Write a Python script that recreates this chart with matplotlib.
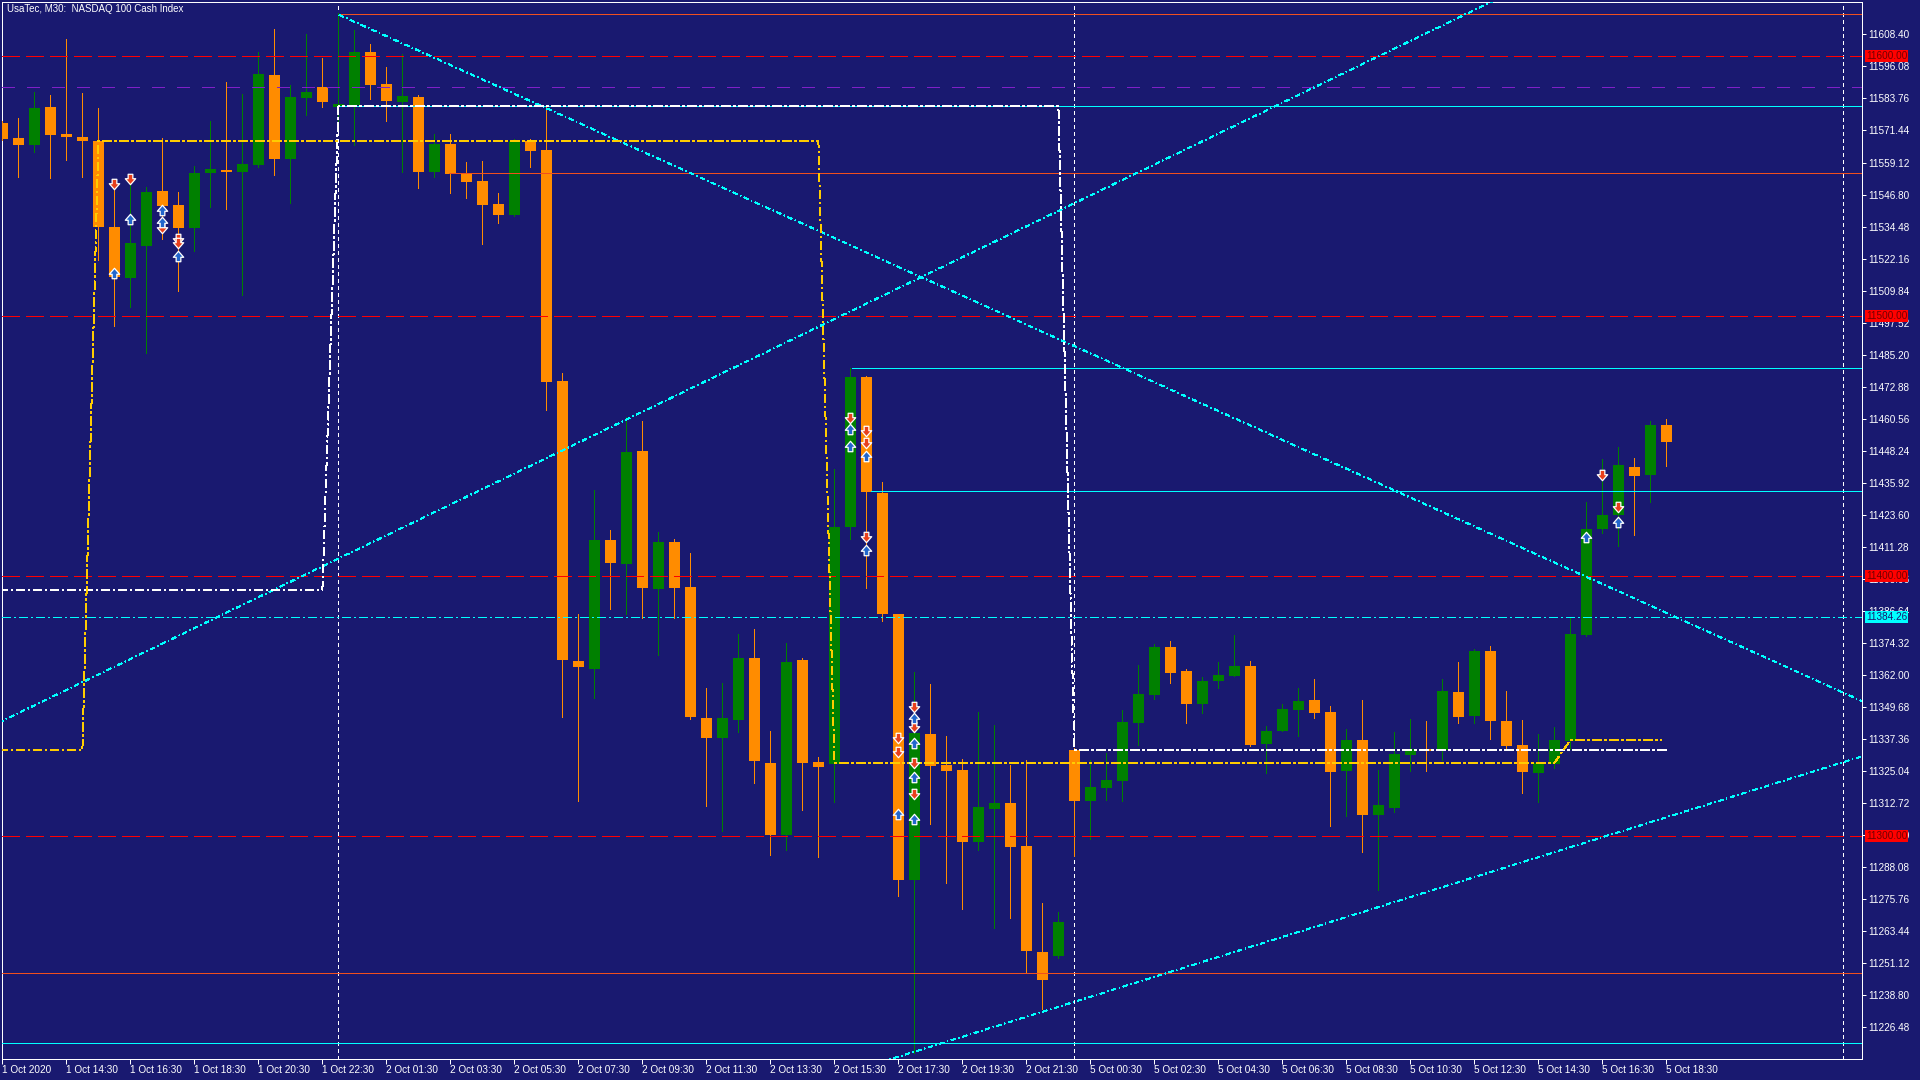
import matplotlib
matplotlib.use('Agg')
import matplotlib.pyplot as plt
from matplotlib.path import Path
from matplotlib.transforms import blended_transform_factory
import numpy as np

# ---------------- data (UsaTec M30 candles, bar index 0 = 1 Oct 12:30) ----------------
opens = [11574.3, 11568.6, 11566.0, 11580.5, 11570.1, 11568.9, 11567.4, 11534.3, 11514.8, 11527.1,
         11548.2, 11542.8, 11533.9, 11555.1, 11556.3, 11555.5, 11558.2, 11592.8, 11560.5, 11583.9,
         11588.2, 11580.6, 11581.1, 11601.6, 11589.3, 11582.5, 11584.3, 11555.5, 11566.3, 11555.1,
         11552.0, 11543.2, 11539.1, 11567.4, 11563.9, 11475.1, 11367.4, 11364.5, 11413.9, 11404.7,
         11448.2, 11395.1, 11413.2, 11395.9, 11345.5, 11337.9, 11344.9, 11368.6, 11328.2, 11300.6,
         11367.8, 11328.6, 11327.9, 11418.8, 11476.6, 11432.0, 11385.3, 11283.3, 11339.3, 11327.4,
         11325.6, 11297.6, 11310.5, 11312.8, 11296.3, 11255.5, 11253.8, 11333.2, 11313.7, 11318.7,
         11321.4, 11343.7, 11354.4, 11372.8, 11363.6, 11351.0, 11359.8, 11361.8, 11365.5, 11335.6,
         11340.6, 11348.7, 11352.4, 11347.8, 11325.2, 11337.0, 11308.3, 11311.0, 11331.4, 11333.6,
         11333.2, 11355.5, 11346.4, 11371.3, 11344.3, 11335.1, 11324.4, 11327.9, 11336.8, 11377.4,
         11418.3, 11423.7, 11442.0, 11439.1, 11458.2]
highs = [11575.1, 11576.2, 11586.2, 11585.0, 11606.6, 11585.9, 11580.2, 11551.2, 11552.4, 11549.6,
         11568.6, 11547.8, 11557.8, 11575.1, 11590.1, 11585.5, 11601.7, 11610.5, 11588.9, 11608.7,
         11599.3, 11616.5, 11610.1, 11604.7, 11595.9, 11600.9, 11585.0, 11570.1, 11570.1, 11559.3,
         11559.7, 11547.4, 11568.2, 11568.0, 11580.5, 11478.0, 11385.3, 11433.0, 11417.9, 11461.3,
         11459.7, 11417.0, 11414.5, 11409.0, 11357.0, 11358.9, 11377.8, 11379.7, 11340.5, 11374.3,
         11368.6, 11330.5, 11441.3, 11480.1, 11477.0, 11436.3, 11385.3, 11363.3, 11358.6, 11338.6,
         11329.8, 11347.8, 11342.8, 11327.4, 11329.3, 11274.3, 11270.9, 11333.9, 11329.5, 11332.1,
         11348.6, 11365.8, 11373.9, 11375.1, 11364.4, 11361.3, 11367.0, 11377.4, 11367.4, 11342.4,
         11351.0, 11357.0, 11360.5, 11350.1, 11341.3, 11352.4, 11325.5, 11340.1, 11345.1, 11344.3,
         11360.5, 11367.0, 11372.0, 11373.2, 11355.9, 11344.7, 11339.3, 11342.0, 11384.2, 11428.6,
         11445.1, 11449.7, 11445.5, 11459.7, 11460.5]
lows = [11567.8, 11553.7, 11563.3, 11553.3, 11560.2, 11553.7, 11521.6, 11496.4, 11503.5, 11485.7,
        11529.8, 11509.8, 11525.2, 11542.1, 11541.3, 11508.3, 11557.5, 11554.4, 11543.7, 11577.5,
        11580.6, 11571.6, 11565.9, 11583.6, 11575.2, 11555.5, 11549.4, 11553.7, 11547.5, 11545.6,
        11527.9, 11536.0, 11538.5, 11557.5, 11463.9, 11345.8, 11313.7, 11353.0, 11387.5, 11385.3,
        11383.9, 11369.9, 11384.1, 11345.0, 11311.8, 11302.2, 11340.1, 11320.5, 11292.9, 11294.8,
        11310.1, 11292.0, 11313.0, 11414.5, 11395.6, 11382.9, 11277.1, 11216.6, 11304.9, 11282.0,
        11272.1, 11294.7, 11264.9, 11268.6, 11247.4, 11233.7, 11253.0, 11292.4, 11298.9, 11314.1,
        11313.7, 11335.2, 11352.9, 11359.1, 11343.7, 11347.5, 11357.1, 11361.5, 11334.8, 11324.4,
        11340.3, 11338.7, 11345.6, 11304.1, 11307.9, 11294.1, 11279.3, 11309.4, 11325.2, 11325.2,
        11329.3, 11343.4, 11343.7, 11337.5, 11333.3, 11316.8, 11313.3, 11326.1, 11333.4, 11377.0,
        11416.8, 11411.8, 11416.0, 11428.6, 11442.5]
closes = [11568.3, 11566.0, 11580.1, 11569.8, 11569.1, 11567.5, 11534.4, 11515.2, 11528.2, 11547.8,
          11542.5, 11533.9, 11555.1, 11556.6, 11555.5, 11558.6, 11593.2, 11560.5, 11584.3, 11586.2,
          11582.4, 11581.6, 11601.6, 11588.9, 11582.9, 11584.7, 11555.5, 11566.3, 11554.8, 11551.8,
          11542.9, 11539.1, 11567.4, 11563.7, 11474.9, 11367.6, 11365.2, 11413.9, 11405.1, 11447.8,
          11395.6, 11413.2, 11395.6, 11345.9, 11337.9, 11345.5, 11368.6, 11328.8, 11300.6, 11367.1,
          11328.3, 11326.8, 11418.9, 11476.6, 11432.5, 11385.3, 11283.2, 11339.7, 11327.2, 11325.2,
          11297.9, 11311.3, 11312.8, 11295.7, 11256.0, 11244.9, 11267.0, 11313.7, 11319.0, 11321.6,
          11343.9, 11354.7, 11372.8, 11362.9, 11351.0, 11359.7, 11362.0, 11365.5, 11335.2, 11340.5,
          11348.9, 11352.0, 11347.5, 11324.8, 11337.0, 11308.3, 11312.0, 11331.6, 11333.4, 11332.9,
          11355.9, 11346.0, 11371.3, 11344.4, 11334.8, 11324.8, 11328.1, 11337.0, 11377.8, 11418.2,
          11423.6, 11442.8, 11438.6, 11458.2, 11451.8]

xtick_labels = ["1 Oct 2020", "1 Oct 14:30", "1 Oct 16:30", "1 Oct 18:30", "1 Oct 20:30", "1 Oct 22:30",
                "2 Oct 01:30", "2 Oct 03:30", "2 Oct 05:30", "2 Oct 07:30", "2 Oct 09:30", "2 Oct 11:30",
                "2 Oct 13:30", "2 Oct 15:30", "2 Oct 17:30", "2 Oct 19:30", "2 Oct 21:30", "5 Oct 00:30",
                "5 Oct 02:30", "5 Oct 04:30", "5 Oct 06:30", "5 Oct 08:30", "5 Oct 10:30", "5 Oct 12:30",
                "5 Oct 14:30", "5 Oct 16:30", "5 Oct 18:30"]
ytick_values = [11226.48, 11238.80, 11251.12, 11263.44, 11275.76, 11288.08, 11300.40, 11312.72,
                11325.04, 11337.36, 11349.68, 11362.00, 11374.32, 11386.64, 11398.96, 11411.28,
                11423.60, 11435.92, 11448.24, 11460.56, 11472.88, 11485.20, 11497.52, 11509.84,
                11522.16, 11534.48, 11546.80, 11559.12, 11571.44, 11583.76, 11596.08, 11608.40]

round_levels = [11600.0, 11500.0, 11400.0, 11300.0]
cyan_level = 11384.26
purple_level = 11588.0
# horizontal segments: (price, start bar)
cyan_segments = [(11580.7, 21.0), (11480.0, 53.1), (11432.8, 54.3)]
orange_segments = [(11616.1, 21.1), (11555.0, 27.9), (11247.3, -1.0)]
cyan_bottom_level = 11220.4
# trend lines (bar, price) pairs
trend_desc = [(21.05, 11615.9), (116.3, 11351.8)]
trend_up_upper = [(-0.5, 11342.9), (95.0, 11626.7)]
trend_up_lower = [(55.0, 11213.3), (116.3, 11330.9)]
# stepped lines
white_step_x = [-1.0, 20.0, 21.0, 66.0, 67.0, 104.0]
white_step_y = [11394.9, 11394.9, 11580.7, 11580.7, 11333.2, 11333.2]
yellow_step_x = [-1.0, 5.0, 6.0, 51.0, 52.0, 97.0, 98.0, 103.7]
yellow_step_y = [11333.2, 11333.2, 11567.4, 11567.4, 11328.2, 11328.2, 11337.0, 11337.0]
separators = [21, 67, 115.05]
# signal arrows
sig_down_x = [7, 8, 10, 11, 11, 53, 54, 54, 54, 56, 56, 57, 57, 57, 57, 100, 101]
sig_down_y = [11550.7, 11552.7, 11534.1, 11529.8, 11528.3, 11461.0, 11455.7, 11451.4, 11415.0,
              11337.9, 11332.4, 11349.6, 11342.0, 11328.2, 11316.1, 11438.9, 11426.5]
sig_up_x = [7, 8, 10, 10, 11, 53, 53, 54, 54, 56, 57, 57, 57, 57, 99, 101]
sig_up_y = [11516.7, 11537.5, 11540.9, 11536.4, 11523.2, 11456.7, 11450.2, 11446.4, 11410.0,
            11308.5, 11345.5, 11336.0, 11322.8, 11306.6, 11415.2, 11421.0]

# ---------------- style ----------------
BG = '#191970'
ORANGE = '#FF8C00'
GREEN = '#008000'
RED = '#FF0000'
CYAN = '#00FFFF'
ORANGE_RED = '#F0501E'
PURPLE = '#8020C8'
YELLOW = '#FFCC00'
PX = 0.72  # points per pixel at 100 dpi

plt.rcParams['font.family'] = ['Liberation Sans', 'DejaVu Sans']
plt.rcParams['lines.scale_dashes'] = False

def dash(*px):
    return (0, tuple(v * PX for v in px))

fig = plt.figure(figsize=(19.2, 10.8), dpi=100, facecolor=BG)
ax = fig.add_axes([2 / 1920, 21 / 1080, 1860 / 1920, 1057 / 1080], facecolor=BG)
ax.set_xlim(-0.025, 116.225)
ax.set_ylim(11214.33, 11620.86)

o = np.array(opens); h = np.array(highs); l = np.array(lows); c = np.array(closes)
idx = np.arange(len(o))
cols = np.where(c >= o, GREEN, ORANGE)

# period separators
for s in separators:
    ax.axvline(s, color='white', lw=1 * PX, ls=dash(3, 3), zorder=2, antialiased=False)

# candles
ax.vlines(idx, l, h, colors=cols, lw=1 * PX, zorder=3, antialiased=False)
bottom = np.minimum(o, c)
height = np.maximum(np.abs(c - o), 0.45)
ax.bar(idx, height, bottom=bottom, width=0.68, color=cols, linewidth=0, zorder=4, antialiased=False)

XR = 117.0
LW = 1.0 * PX
# level lines
for lv in round_levels:
    ax.axhline(lv, color=RED, lw=LW, ls=dash(18, 6), zorder=5, antialiased=False)
ax.axhline(purple_level, color=PURPLE, lw=LW, ls=dash(12, 12), zorder=5, antialiased=False)
ax.axhline(cyan_level, color=CYAN, lw=LW, ls=dash(9, 3, 2, 3), zorder=5, antialiased=False)
ax.axhline(cyan_bottom_level, color=CYAN, lw=LW, zorder=5, antialiased=False)
for pr, x0 in cyan_segments:
    ax.hlines(pr, x0, XR, colors=CYAN, lw=LW, zorder=5, antialiased=False)
for pr, x0 in orange_segments:
    ax.hlines(pr, x0, XR, colors=ORANGE_RED, lw=LW, zorder=5, antialiased=False)

# trend lines
for tl in (trend_desc, trend_up_upper, trend_up_lower):
    ax.plot([tl[0][0], tl[1][0]], [tl[0][1], tl[1][1]], color=CYAN, lw=LW,
            ls=dash(5, 4, 1, 4), zorder=5, antialiased=False)

# stepped lines
ax.plot(white_step_x, white_step_y, color='white', lw=LW, ls=dash(9, 3, 2, 3), zorder=6, antialiased=False)
ax.plot(yellow_step_x, yellow_step_y, color=YELLOW, lw=LW, ls=dash(9, 3, 2, 3), zorder=6, antialiased=False)

# signal arrows
down_path = Path([(-0.45, 1), (0.45, 1), (0.45, 0.15), (1, 0.15), (0, -1), (-1, 0.15),
                  (-0.45, 0.15), (-0.45, 1)], closed=True)
up_path = Path([(-0.45, -1), (0.45, -1), (0.45, -0.15), (1, -0.15), (0, 1), (-1, -0.15),
                (-0.45, -0.15), (-0.45, -1)], closed=True)
ax.plot(sig_down_x, sig_down_y, ls='none', marker=down_path, ms=7.5, mfc='#E8401C', mec='white',
        mew=0.9, zorder=8)
ax.plot(sig_up_x, sig_up_y, ls='none', marker=up_path, ms=7.5, mfc='#2266CC', mec='white',
        mew=0.9, zorder=8)

# axes styling
for sp in ax.spines.values():
    sp.set_color('white')
    sp.set_linewidth(1 * PX)
ax.yaxis.tick_right()
ax.set_yticks(ytick_values)
ax.set_yticklabels(['%.2f' % v for v in ytick_values])
ax.tick_params(axis='y', colors='white', labelcolor='white', length=4 * PX, width=1 * PX,
               pad=2.5 * PX, labelsize=7.2, direction='out')
ax.set_xticks(np.arange(0, 4 * len(xtick_labels), 4))
ax.set_xticklabels(xtick_labels, ha='left')
ax.tick_params(axis='x', colors='white', labelcolor='white', length=5 * PX, width=1 * PX,
               pad=1 * PX, labelsize=7.2, direction='out')

# price labels on the axis
trans = blended_transform_factory(ax.transAxes, ax.transData)
for lv in round_levels:
    ax.text(1.0021, lv, '%.2f' % lv, transform=trans, ha='left', va='center', fontsize=7.2,
            color='#700000', clip_on=False, zorder=10,
            bbox=dict(boxstyle='square,pad=0.12', fc=RED, ec='none'))
ax.text(1.0021, cyan_level, '%.2f' % cyan_level, transform=trans, ha='left', va='center', fontsize=7.2,
        color=BG, clip_on=False, zorder=10,
        bbox=dict(boxstyle='square,pad=0.12', fc=CYAN, ec='none'))

fig.text(7 / 1920, 1 - 9.5 / 1080, 'UsaTec, M30:  NASDAQ 100 Cash Index', color='white',
         fontsize=7.0, ha='left', va='center')

fig.savefig('out.png', dpi=100, facecolor=BG)
